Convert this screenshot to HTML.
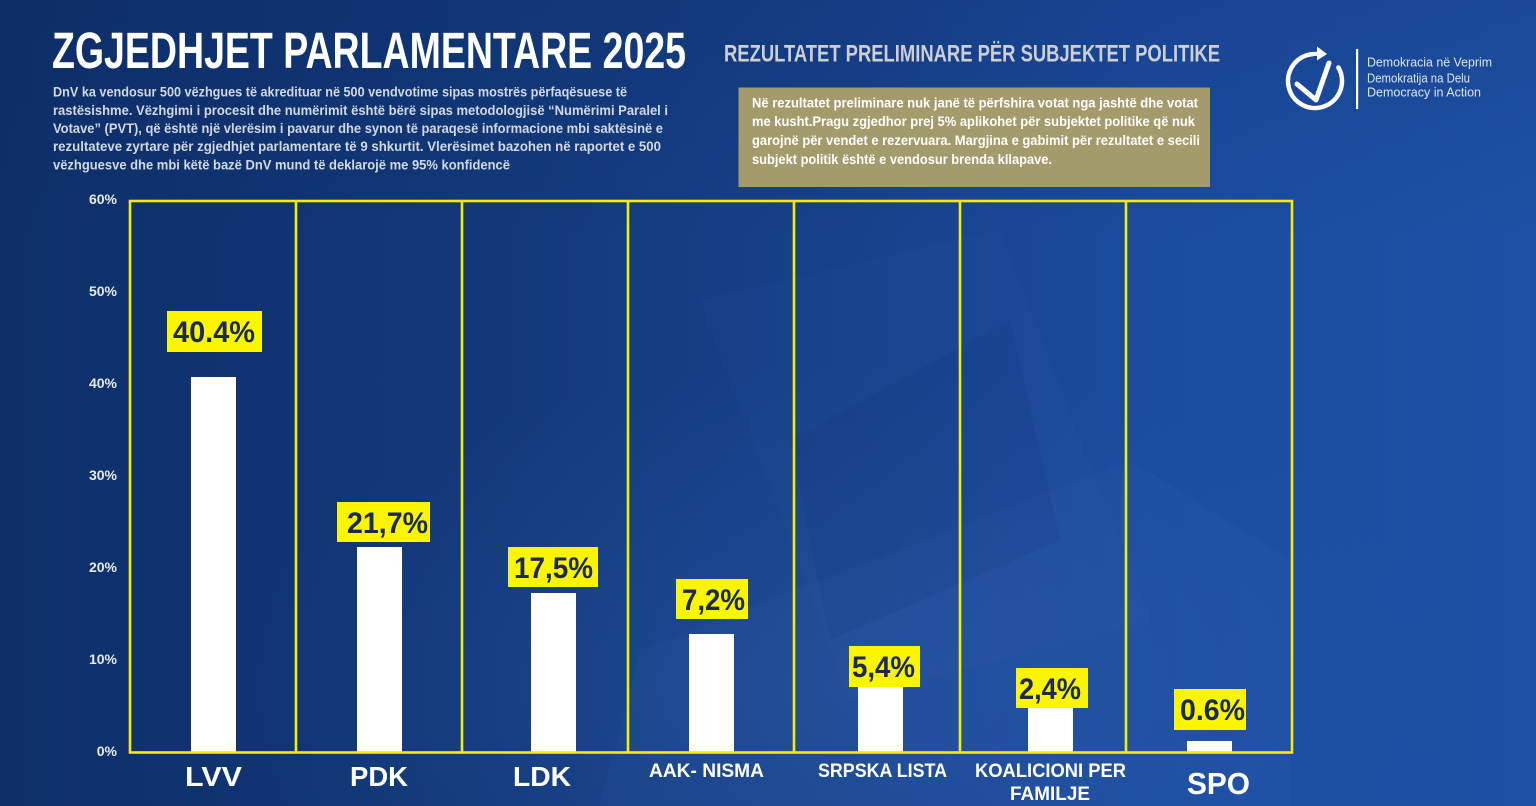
<!DOCTYPE html>
<html>
<head>
<meta charset="utf-8">
<style>
  html, body { margin:0; padding:0; background:#12397a; }
  body { width:1536px; height:806px; overflow:hidden; }
  svg { display:block; }
</style>
</head>
<body>
<svg width="1536" height="806" viewBox="0 0 1536 806" xmlns="http://www.w3.org/2000/svg">
  <defs>
    <linearGradient id="bg" x1="0" y1="0" x2="1" y2="0">
      <stop offset="0" stop-color="#0e2f6a"/>
      <stop offset="0.3" stop-color="#123878"/>
      <stop offset="0.55" stop-color="#17418a"/>
      <stop offset="0.75" stop-color="#1b4b9e"/>
      <stop offset="1" stop-color="#1f51a6"/>
    </linearGradient>
    <radialGradient id="glow" cx="0.55" cy="0.85" r="0.4">
      <stop offset="0" stop-color="#3b6fc0" stop-opacity="0.25"/>
      <stop offset="1" stop-color="#3b6fc0" stop-opacity="0"/>
    </radialGradient>
    <linearGradient id="topdark" x1="0" y1="0" x2="0" y2="1">
      <stop offset="0" stop-color="#0a2860" stop-opacity="0.2"/>
      <stop offset="0.3" stop-color="#0a2860" stop-opacity="0"/>
    </linearGradient>
  </defs>

  <!-- background -->
  <rect x="0" y="0" width="1536" height="806" fill="url(#bg)"/>
  <rect x="0" y="0" width="1536" height="806" fill="url(#glow)"/>
  <rect x="0" y="0" width="1536" height="806" fill="url(#topdark)"/>
  <!-- subtle photo-collage hints -->
  <polygon points="700,300 1000,230 1150,620 850,700" fill="#4a7cc8" opacity="0.05"/>
  <polygon points="600,806 640,650 1130,460 1290,560 1290,806" fill="#5a8ad0" opacity="0.05"/>
  <polygon points="790,440 1010,320 1060,540 830,640" fill="#0d2c66" opacity="0.10"/>

  <!-- Title -->
  <text x="52" y="68" font-family="Liberation Sans, sans-serif" font-weight="bold" font-size="51" fill="#ffffff" textLength="634" lengthAdjust="spacingAndGlyphs">ZGJEDHJET PARLAMENTARE 2025</text>

  <!-- intro paragraph -->
  <g font-family="Liberation Sans, sans-serif" font-weight="bold" font-size="14" fill="#d3d8e3">
    <text x="53" y="96.7" textLength="574" lengthAdjust="spacingAndGlyphs">DnV ka vendosur 500 vëzhgues të akredituar në 500 vendvotime sipas mostrës përfaqësuese të</text>
    <text x="53" y="114.9" textLength="615" lengthAdjust="spacingAndGlyphs">rastësishme. Vëzhgimi i procesit dhe numërimit është bërë sipas metodologjisë “Numërimi Paralel i</text>
    <text x="53" y="133" textLength="610" lengthAdjust="spacingAndGlyphs">Votave” (PVT), që është një vlerësim i pavarur dhe synon të paraqesë informacione mbi saktësinë e</text>
    <text x="53" y="151.2" textLength="608" lengthAdjust="spacingAndGlyphs">rezultateve zyrtare për zgjedhjet parlamentare të 9 shkurtit. Vlerësimet bazohen në raportet e 500</text>
    <text x="53" y="169.3" textLength="457" lengthAdjust="spacingAndGlyphs">vëzhguesve dhe mbi këtë bazë DnV mund të deklarojë me 95% konfidencë</text>
  </g>

  <!-- Subtitle -->
  <text x="724" y="61.5" font-family="Liberation Sans, sans-serif" font-weight="bold" font-size="24" fill="#cdcfd4" textLength="496" lengthAdjust="spacingAndGlyphs">REZULTATET PRELIMINARE PËR SUBJEKTET POLITIKE</text>

  <!-- Olive note box -->
  <rect x="738.5" y="87.5" width="471.5" height="99.5" fill="#a49b6c"/>
  <g font-family="Liberation Sans, sans-serif" font-weight="bold" font-size="14" fill="#ffffff">
    <text x="752" y="107.3" textLength="446" lengthAdjust="spacingAndGlyphs">Në rezultatet preliminare nuk janë të përfshira votat nga jashtë dhe votat</text>
    <text x="752" y="126.2" textLength="443" lengthAdjust="spacingAndGlyphs">me kusht.Pragu zgjedhor prej 5% aplikohet për subjektet politike që nuk</text>
    <text x="752" y="145.1" textLength="448" lengthAdjust="spacingAndGlyphs">garojnë për vendet e rezervuara. Margjina e gabimit për rezultatet e secili</text>
    <text x="752" y="164" textLength="300" lengthAdjust="spacingAndGlyphs">subjekt politik është e vendosur brenda kllapave.</text>
  </g>

  <!-- Logo -->
  <g fill="none" stroke="#ffffff" stroke-linecap="round" stroke-linejoin="round">
    <path d="M1338.4,67.5 A27,27 0 1 1 1312.6,54.1" stroke-width="4.5"/>
    <path d="M1297,84 L1316,100 L1329,63" stroke-width="5"/>
    <path d="M1312.6,54.1 Q1318,53.5 1322,54" stroke-width="4"/>
  </g>
  <polygon points="1317,46.5 1327,54 1317,60.5" fill="#ffffff"/>
  <rect x="1356" y="49" width="2.2" height="60" fill="#ffffff"/>
  <g font-family="Liberation Sans, sans-serif" font-size="13" fill="#dfe6f4">
    <text x="1367" y="66.7" textLength="125" lengthAdjust="spacingAndGlyphs">Demokracia në Veprim</text>
    <text x="1367" y="82.7" textLength="103" lengthAdjust="spacingAndGlyphs">Demokratija na Delu</text>
    <text x="1367" y="96.7" textLength="114" lengthAdjust="spacingAndGlyphs">Democracy in Action</text>
  </g>

  <!-- Y axis tick labels -->
  <g font-family="Liberation Sans, sans-serif" font-weight="bold" font-size="14" fill="#e6eaf2" text-anchor="end">
    <text x="117" y="204">60%</text>
    <text x="117" y="296">50%</text>
    <text x="117" y="388">40%</text>
    <text x="117" y="480">30%</text>
    <text x="117" y="572">20%</text>
    <text x="117" y="664">10%</text>
    <text x="117" y="756">0%</text>
  </g>

  <!-- Bars -->
  <g fill="#ffffff">
    <rect x="191" y="377" width="45" height="375"/>
    <rect x="357" y="547" width="45" height="205"/>
    <rect x="531" y="593" width="45" height="159"/>
    <rect x="689" y="634" width="45" height="118"/>
    <rect x="858" y="687" width="45" height="65"/>
    <rect x="1028" y="708" width="45" height="44"/>
    <rect x="1187" y="741" width="45" height="11"/>
  </g>

  <!-- Yellow grid box -->
  <g stroke="#f4ef00" stroke-width="2.6" fill="none">
    <rect x="130" y="201" width="1162" height="551.5"/>
    <line x1="296" y1="201" x2="296" y2="752.5"/>
    <line x1="462" y1="201" x2="462" y2="752.5"/>
    <line x1="628" y1="201" x2="628" y2="752.5"/>
    <line x1="794" y1="201" x2="794" y2="752.5"/>
    <line x1="960" y1="201" x2="960" y2="752.5"/>
    <line x1="1126" y1="201" x2="1126" y2="752.5"/>
  </g>

  <!-- Value labels -->
  <g fill="#fbf500">
    <rect x="167" y="311" width="95" height="41"/>
    <rect x="337" y="502" width="93" height="40"/>
    <rect x="508" y="547" width="90" height="40"/>
    <rect x="676" y="579" width="72" height="40"/>
    <rect x="849" y="646" width="71" height="41"/>
    <rect x="1016" y="668" width="72" height="40"/>
    <rect x="1174" y="689" width="72" height="41"/>
  </g>
  <g font-family="Liberation Sans, sans-serif" font-weight="bold" font-size="30" fill="#1b2a50">
    <text x="173" y="342" textLength="82" lengthAdjust="spacingAndGlyphs">40.4%</text>
    <text x="347" y="533" textLength="81" lengthAdjust="spacingAndGlyphs">21,7%</text>
    <text x="514" y="578" textLength="79" lengthAdjust="spacingAndGlyphs">17,5%</text>
    <text x="682" y="610" textLength="63" lengthAdjust="spacingAndGlyphs">7,2%</text>
    <text x="852" y="677" textLength="63" lengthAdjust="spacingAndGlyphs">5,4%</text>
    <text x="1019" y="699" textLength="62" lengthAdjust="spacingAndGlyphs">2,4%</text>
    <text x="1180" y="720" textLength="65" lengthAdjust="spacingAndGlyphs">0.6%</text>
  </g>

  <!-- Category labels -->
  <g font-family="Liberation Sans, sans-serif" font-weight="bold" fill="#ffffff">
    <text x="185" y="786" font-size="28" textLength="57" lengthAdjust="spacingAndGlyphs">LVV</text>
    <text x="350" y="786" font-size="28" textLength="58" lengthAdjust="spacingAndGlyphs">PDK</text>
    <text x="513" y="786" font-size="28" textLength="58" lengthAdjust="spacingAndGlyphs">LDK</text>
    <text x="649" y="777" font-size="19" textLength="115" lengthAdjust="spacingAndGlyphs">AAK- NISMA</text>
    <text x="818" y="777" font-size="19" textLength="129" lengthAdjust="spacingAndGlyphs">SRPSKA LISTA</text>
    <text x="975" y="777" font-size="19" textLength="151" lengthAdjust="spacingAndGlyphs">KOALICIONI PER</text>
    <text x="1010" y="800" font-size="19" textLength="80" lengthAdjust="spacingAndGlyphs">FAMILJE</text>
    <text x="1187" y="794" font-size="31" textLength="63" lengthAdjust="spacingAndGlyphs">SPO</text>
  </g>
</svg>
</body>
</html>
